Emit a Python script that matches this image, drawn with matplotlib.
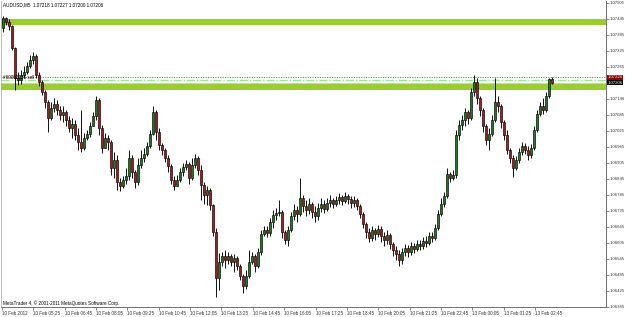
import numpy as np
import matplotlib
matplotlib.use("Agg")
import matplotlib.pyplot as plt
import matplotlib.transforms as mtransforms

plt.rcParams['font.family'] = ['Liberation Sans', 'DejaVu Sans']

# AUDUSD M5 prices, in 1e-5 units above 1.0 (7449 -> 1.07449)
first_open_pts = 7411
close_pts = [
    7449, 7434, 7419, 7336, 7224, 7216, 7235, 7246, 7269, 7291,
    7306, 7235, 7209, 7171, 7134, 7074, 7111, 7126, 7104, 7085,
    7096, 7066, 7036, 7051, 7010, 6984, 6961, 6999, 7014, 7044,
    7081, 7141, 7036, 6961, 6999, 6984, 6886, 6916, 6834, 6819,
    6841, 6856, 6924, 6871, 6834, 6897, 6924, 6939, 6969, 7014,
    7096, 7021, 6972, 6954, 6924, 6894, 6841, 6819, 6841, 6871,
    6890, 6901, 6849, 6897, 6924, 6879, 6822, 6785, 6804, 6747,
    6646, 6474, 6534, 6556, 6541, 6556, 6534, 6549, 6519, 6481,
    6444, 6481, 6534, 6556, 6519, 6571, 6639, 6654, 6642, 6684,
    6710, 6717, 6721, 6646, 6616, 6654, 6706, 6729, 6714, 6774,
    6744, 6729, 6751, 6721, 6706, 6736, 6751, 6732, 6755, 6766,
    6751, 6766, 6777, 6762, 6781, 6770, 6755, 6766, 6744, 6714,
    6676, 6646, 6624, 6654, 6639, 6657, 6631, 6616, 6635, 6601,
    6579, 6564, 6541, 6571, 6586, 6571, 6594, 6582, 6601, 6594,
    6612, 6605, 6631, 6624, 6661, 6714, 6751, 6781, 6864, 6849,
    6860, 7010, 7047, 7066, 7096, 7074, 7171, 7209, 7149, 7104,
    7044, 6991, 7014, 7066, 7134, 7119, 7059, 7010, 6954, 6924,
    6886, 6916, 6946, 6969, 6954, 6935, 6961, 7029, 7089, 7119,
    7104, 7156, 7218, 7206,
]
high_pts = [
    7456, 7452, 7445, 7421, 7340, 7246, 7254, 7269, 7284, 7310,
    7321, 7314, 7246, 7216, 7179, 7141, 7134, 7149, 7141, 7119,
    7119, 7104, 7081, 7074, 7066, 7036, 7104, 7017, 7029, 7059,
    7096, 7156, 7149, 7047, 7017, 7010, 6991, 6946, 6935, 6849,
    6856, 6886, 6954, 6935, 6879, 6924, 6954, 6961, 6984, 7029,
    7119, 7104, 7036, 6980, 6961, 6935, 6901, 6856, 6860, 6886,
    6905, 6916, 6909, 6924, 6939, 6931, 6897, 6834, 6819, 6811,
    6751, 6661, 6567, 6571, 6579, 6571, 6564, 6564, 6556, 6526,
    6489, 6504, 6579, 6571, 6564, 6586, 6654, 6669, 6669, 6699,
    6729, 6736, 6766, 6729, 6654, 6669, 6721, 6751, 6744, 6849,
    6785, 6766, 6774, 6759, 6744, 6755, 6774, 6766, 6774, 6785,
    6774, 6781, 6792, 6785, 6796, 6789, 6781, 6781, 6774, 6751,
    6721, 6684, 6661, 6669, 6661, 6672, 6669, 6646, 6654, 6642,
    6609, 6594, 6579, 6586, 6601, 6597, 6609, 6605, 6616, 6616,
    6627, 6631, 6646, 6646, 6676, 6729, 6774, 6796, 6886, 6871,
    6879, 7029, 7066, 7085, 7111, 7104, 7186, 7235, 7224, 7156,
    7111, 7051, 7036, 7085, 7224, 7156, 7126, 7066, 7029, 6961,
    6935, 6931, 6961, 6984, 6980, 6969, 6976, 7044, 7104, 7134,
    7149, 7171, 7224, 7227,
]
low_pts = [
    7396, 7422, 7404, 7329, 7179, 7197, 7201, 7224, 7239, 7261,
    7276, 7224, 7194, 7160, 7111, 7021, 7066, 7096, 7085, 7066,
    7059, 7044, 7021, 6999, 6991, 6954, 6946, 6954, 6991, 7002,
    7044, 7066, 7010, 6942, 6961, 6954, 6860, 6849, 6804, 6800,
    6811, 6826, 6841, 6849, 6811, 6822, 6886, 6909, 6931, 6961,
    7010, 6991, 6954, 6935, 6909, 6871, 6826, 6804, 6819, 6834,
    6856, 6879, 6826, 6841, 6886, 6860, 6766, 6751, 6747, 6729,
    6631, 6402, 6429, 6519, 6511, 6526, 6519, 6496, 6504, 6466,
    6417, 6432, 6474, 6526, 6496, 6511, 6560, 6631, 6627, 6631,
    6661, 6691, 6706, 6624, 6601, 6594, 6646, 6691, 6684, 6706,
    6721, 6706, 6714, 6699, 6684, 6691, 6721, 6717, 6725, 6740,
    6736, 6744, 6751, 6747, 6755, 6751, 6736, 6740, 6729, 6699,
    6661, 6624, 6609, 6612, 6616, 6627, 6609, 6594, 6601, 6582,
    6556, 6541, 6519, 6526, 6556, 6552, 6560, 6567, 6575, 6579,
    6582, 6590, 6597, 6609, 6616, 6654, 6706, 6740, 6774, 6834,
    6841, 6849, 6991, 7029, 7044, 7051, 7066, 7156, 7126, 7081,
    7021, 6972, 6954, 7006, 7059, 7096, 7036, 6991, 6939, 6905,
    6852, 6879, 6905, 6935, 6939, 6916, 6924, 6954, 7021, 7081,
    7089, 7096, 7149, 7200,
]

# horizontal zones (top, bottom) and other price lines
zone_top = [1.07445, 1.07201]
zone_bottom = [1.07422, 1.07179]
bid = 1.07206
ask = 1.07226
order_price = 1.07216
order_label = "#60002126 sell"

price_ticks = [1.07505, 1.07445, 1.07385, 1.07325, 1.07265, 1.07146, 1.07085,
               1.07025, 1.06965, 1.06905, 1.06845, 1.06785, 1.06725, 1.06665,
               1.06605, 1.06545, 1.06485, 1.06425, 1.06365]
time_labels = ["10 Feb 2012", "10 Feb 05:25", "10 Feb 06:45", "10 Feb 08:05",
               "10 Feb 09:25", "10 Feb 10:45", "10 Feb 12:05", "10 Feb 13:25",
               "10 Feb 14:45", "10 Feb 16:05", "10 Feb 17:25", "10 Feb 18:45",
               "10 Feb 20:05", "10 Feb 21:25", "10 Feb 22:45", "13 Feb 00:05",
               "13 Feb 01:25", "13 Feb 02:45"]
bars_per_label = 10.45

close = 1 + np.array(close_pts) / 1e5
high = 1 + np.array(high_pts) / 1e5
low = 1 + np.array(low_pts) / 1e5
opn = np.concatenate([[1 + first_open_pts / 1e5], close[:-1]])
idx = np.arange(len(close))

fs = 3.3
fs_price = 3.05

fig = plt.figure(figsize=(6.25, 3.17), dpi=100)
ax = fig.add_axes([1 / 625, 10 / 317, 605 / 625, 306 / 317])

for t, b in zip(zone_top, zone_bottom):
    ax.axhspan(b, t, color='#9acd32', lw=0, zorder=1)

ax.axhline(ask, color='#c04040', lw=0.7, ls=(0, (1, 1.5)), zorder=1.5)
ax.axhline(order_price, color='#90ee90', lw=0.9, ls='-.', zorder=1.5)
ax.axhline(bid, color='#c8c8c8', lw=0.6, zorder=1.5)

# candles
ax.vlines(idx, low, high, color='black', lw=0.65, zorder=2)
up = close >= opn
body_lo = np.minimum(opn, close)
body_h = np.maximum(np.abs(close - opn), 0.000015)
ax.bar(idx[up], body_h[up], bottom=body_lo[up], width=0.66,
       color='#1c7a1c', edgecolor='black', lw=0.45, zorder=3)
ax.bar(idx[~up], body_h[~up], bottom=body_lo[~up], width=0.66,
       color='#b01818', edgecolor='black', lw=0.45, zorder=3)

ax.set_xlim(-0.67, 201)
ax.set_ylim(1.063648, 1.075123)

# price axis on the right
ax.yaxis.tick_right()
ax.set_yticks(price_ticks)
ax.set_yticklabels([f"{p:.5f}" for p in price_ticks])
ax.tick_params(axis='y', length=1.8, width=0.5, pad=0.5, labelsize=fs_price,
               color='#555555', labelcolor='#333333')

xt = -0.33 + bars_per_label * np.arange(len(time_labels))
ax.set_xticks(xt)
ax.set_xticklabels(time_labels)
ax.tick_params(axis='x', length=2, width=0.5, pad=1, labelsize=fs,
               color='#555555', labelcolor='#333333')
for lbl in ax.get_xticklabels():
    lbl.set_horizontalalignment('left')

ax.spines['top'].set_visible(False)
ax.spines['left'].set_color('#b0b0b0')
ax.spines['left'].set_linewidth(0.6)
for side in ['right', 'bottom']:
    ax.spines[side].set_color('#707070')
    ax.spines[side].set_linewidth(0.7)

# current price boxes
trans = mtransforms.blended_transform_factory(ax.transAxes, ax.transData)
ax.text(1.002, bid, f"{bid:.5f}", transform=trans, ha='left', va='center',
        fontsize=fs_price, color='white', clip_on=False,
        bbox=dict(boxstyle='square,pad=0.15', fc='black', ec='none'))
ax.text(1.002, ask, f"{ask:.5f}", transform=trans, ha='left', va='center',
        fontsize=fs_price, color='white', clip_on=False,
        bbox=dict(boxstyle='square,pad=0.15', fc='#8b0000', ec='none'))

ax.text(0.004, order_price, order_label, transform=trans, ha='left',
        va='bottom', fontsize=fs, color='black', zorder=4)

ax.text(0.004, 0.987, "AUDUSD,M5  1.07218 1.07227 1.07200 1.07206",
        transform=ax.transAxes, ha='left', va='center', fontsize=fs,
        color='black', zorder=4)
ax.text(0.004, 0.014, "MetaTrader 4, \u00a9 2001-2011 MetaQuotes Software Corp.",
        transform=ax.transAxes, ha='left', va='center', fontsize=fs,
        color='black', zorder=4)

fig.savefig('out.png', dpi=100)
